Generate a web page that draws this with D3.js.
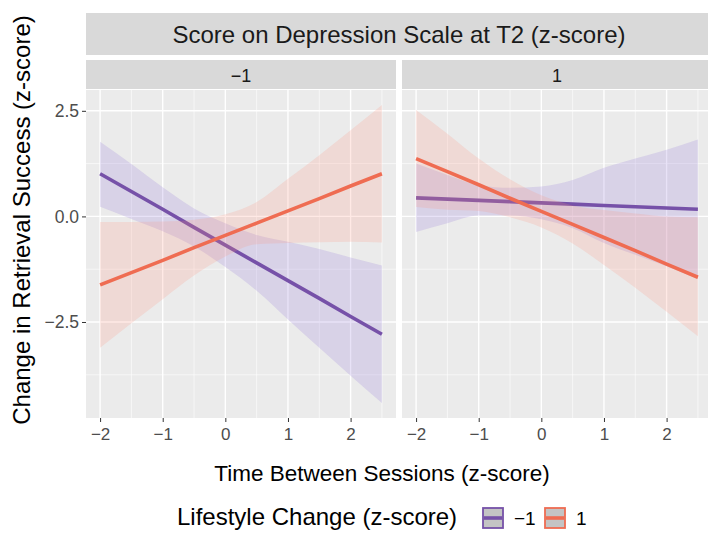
<!DOCTYPE html>
<html>
<head>
<meta charset="utf-8">
<script src="https://cdn.jsdelivr.net/npm/d3@7"></script>
<style>
  html, body { margin: 0; padding: 0; background: #fff; overflow: hidden; }
  svg { display: block; font-family: "Liberation Sans", Arial, sans-serif; }
</style>
</head>
<body>
<svg id="chart" width="708" height="534"></svg>
<script>
const timeX = [-2, -1.5, -1, -0.5, 0, 0.5, 1, 1.5, 2, 2.5];

// facet: depression -1
const depLowPurpleFit   = [1.01, 0.59, 0.17, -0.26, -0.68, -1.10, -1.52, -1.94, -2.37, -2.79];
const depLowPurpleUpper = [1.77, 1.24, 0.69, 0.19, -0.16, -0.44, -0.60, -0.77, -0.97, -1.16];
const depLowPurpleLower = [0.23, -0.06, -0.35, -0.71, -1.20, -1.76, -2.44, -3.11, -3.77, -4.42];
const depLowOrangeFit   = [-1.62, -1.33, -1.04, -0.74, -0.45, -0.16, 0.13, 0.42, 0.72, 1.01];
const depLowOrangeUpper = [-0.13, -0.13, -0.12, -0.08, 0.05, 0.34, 0.89, 1.45, 2.04, 2.64];
const depLowOrangeLower = [-3.11, -2.53, -1.96, -1.40, -0.95, -0.66, -0.63, -0.61, -0.60, -0.62];

// facet: depression 1
const depHighPurpleFit   = [0.44, 0.41, 0.38, 0.35, 0.32, 0.29, 0.26, 0.23, 0.20, 0.17];
const depHighPurpleUpper = [1.25, 0.98, 0.74, 0.68, 0.71, 0.86, 1.15, 1.37, 1.58, 1.82];
const depHighPurpleLower = [-0.37, -0.16, 0.02, 0.02, -0.07, -0.28, -0.63, -0.91, -1.18, -1.48];
const depHighOrangeFit   = [1.37, 1.06, 0.75, 0.43, 0.12, -0.19, -0.50, -0.81, -1.13, -1.44];
const depHighOrangeUpper = [2.52, 1.96, 1.37, 0.88, 0.50, 0.26, 0.15, 0.07, 0.00, -0.02];
const depHighOrangeLower = [0.22, 0.16, 0.13, -0.02, -0.26, -0.64, -1.15, -1.69, -2.26, -2.84];

const facetLabels = ["\u22121", "1"];
const lifestyleLevels = ["\u22121", "1"];
const xTicks = [-2, -1, 0, 1, 2];
const xMinor = [-1.5, -0.5, 0.5, 1.5, 2.5];
const yTicks = [-2.5, 0, 2.5];
const yMinor = [-3.75, -1.25, 1.25];

const lineCol = ["#7651a8", "#ef6c52"];
const ribbonCol = ["#8c6ed7", "#ff917f"];

const svg = d3.select("#chart");
const panelW = 310, gap = 6, left = 86;
const pTop = 90, pBottom = 418;

const y = d3.scaleLinear().domain([-4.773, 2.993]).range([pBottom, pTop]);
const fmtTick = v => (v < 0 ? "\u2212" : "") + Math.abs(v);
const fmtY = v => (v < 0 ? "\u2212" : "") + Math.abs(v).toFixed(1);

const facets = [
  { label: facetLabels[0], groups: [
    { fit: depLowPurpleFit, up: depLowPurpleUpper, lo: depLowPurpleLower },
    { fit: depLowOrangeFit, up: depLowOrangeUpper, lo: depLowOrangeLower }] },
  { label: facetLabels[1], groups: [
    { fit: depHighPurpleFit, up: depHighPurpleUpper, lo: depHighPurpleLower },
    { fit: depHighOrangeFit, up: depHighOrangeUpper, lo: depHighOrangeLower }] }
];

// Outer strip
svg.append("rect").attr("x", left).attr("y", 13).attr("width", panelW * 2 + gap).attr("height", 42).attr("fill", "#d9d9d9");
svg.append("text")
  .attr("x", left + panelW + gap / 2).attr("y", 42.5)
  .attr("text-anchor", "middle")
  .style("font-size", "24px").style("fill", "#1a1a1a")
  .text("Score on Depression Scale at T2 (z-score)");

facets.forEach((f, i) => {
  const x0 = left + i * (panelW + gap);
  const x = d3.scaleLinear().domain([-2.225, 2.725]).range([x0, x0 + panelW]);

  // facet strip
  svg.append("rect").attr("x", x0).attr("y", 60).attr("width", panelW).attr("height", 29).attr("fill", "#d9d9d9");
  svg.append("text").attr("x", x0 + panelW / 2).attr("y", 81.5)
    .attr("text-anchor", "middle").style("font-size", "18px").style("fill", "#1a1a1a")
    .text(f.label);

  const g = svg.append("g");
  g.append("rect").attr("x", x0).attr("y", pTop).attr("width", panelW).attr("height", pBottom - pTop).attr("fill", "#ebebeb");

  // grid
  g.selectAll(".ymin").data(yMinor).join("line")
    .attr("x1", x0).attr("x2", x0 + panelW).attr("y1", d => y(d)).attr("y2", d => y(d))
    .attr("stroke", "#fff").attr("stroke-width", 0.6);
  g.selectAll(".xmin").data(xMinor).join("line")
    .attr("x1", d => x(d)).attr("x2", d => x(d)).attr("y1", pTop).attr("y2", pBottom)
    .attr("stroke", "#fff").attr("stroke-width", 0.6);
  g.selectAll(".ymaj").data(yTicks).join("line")
    .attr("x1", x0).attr("x2", x0 + panelW).attr("y1", d => y(d)).attr("y2", d => y(d))
    .attr("stroke", "#fff").attr("stroke-width", 1.4);
  g.selectAll(".xmaj").data(xTicks).join("line")
    .attr("x1", d => x(d)).attr("x2", d => x(d)).attr("y1", pTop).attr("y2", pBottom)
    .attr("stroke", "#fff").attr("stroke-width", 1.4);

  // ribbons + lines
  f.groups.forEach((s, k) => {
    const pts = timeX.map((t, j) => ({ t, fit: s.fit[j], up: s.up[j], lo: s.lo[j] }));
    g.append("path").datum(pts)
      .attr("d", d3.area().curve(d3.curveMonotoneX).x(d => x(d.t)).y0(d => y(d.lo)).y1(d => y(d.up)))
      .attr("fill", ribbonCol[k]).attr("fill-opacity", 0.2);
    g.append("path").datum(pts)
      .attr("d", d3.line().x(d => x(d.t)).y(d => y(d.fit)))
      .attr("fill", "none").attr("stroke", lineCol[k]).attr("stroke-width", 3.6);
  });

  // x axis
  svg.append("g").attr("transform", `translate(0,${pBottom})`)
    .call(d3.axisBottom(x).tickValues(xTicks).tickSize(4).tickPadding(6).tickFormat(fmtTick))
    .call(ax => {
      ax.select(".domain").remove();
      ax.selectAll(".tick line").attr("stroke", "#333");
      ax.selectAll(".tick text").style("font-size", "17px").style("fill", "#4d4d4d").style("font-family", "Liberation Sans, Arial, sans-serif");
    });

  if (i === 0) {
    svg.append("g").attr("transform", `translate(${x0},0)`)
      .call(d3.axisLeft(y).tickValues(yTicks).tickSize(4).tickPadding(3).tickFormat(fmtY))
      .call(ax => {
        ax.select(".domain").remove();
        ax.selectAll(".tick line").attr("stroke", "#333");
        ax.selectAll(".tick text").style("font-size", "17.5px").style("fill", "#4d4d4d").style("font-family", "Liberation Sans, Arial, sans-serif");
      });
  }
});

// axis titles
svg.append("text")
  .attr("x", 382).attr("y", 481)
  .attr("text-anchor", "middle").style("font-size", "22.5px").style("fill", "#000")
  .text("Time Between Sessions (z-score)");
svg.append("text")
  .attr("transform", "translate(30,220) rotate(-90)")
  .attr("text-anchor", "middle").style("font-size", "24px").style("fill", "#000")
  .text("Change in Retrieval Success (z-score)");

// legend
const leg = svg.append("g");
leg.append("text").attr("x", 177).attr("y", 525)
  .style("font-size", "24px").style("fill", "#000")
  .text("Lifestyle Change (z-score)");
const keyX = [482, 544];
lifestyleLevels.forEach((lab, k) => {
  leg.append("rect").attr("x", keyX[k] + 1).attr("y", 508).attr("width", 20).attr("height", 20)
    .attr("fill", "#c4c4c4").attr("stroke", lineCol[k]).attr("stroke-width", 1.8);
  leg.append("line").attr("x1", keyX[k] + 2).attr("x2", keyX[k] + 20).attr("y1", 518).attr("y2", 518)
    .attr("stroke", lineCol[k]).attr("stroke-width", 3.6);
  leg.append("text").attr("x", keyX[k] + 32).attr("y", 525)
    .style("font-size", "19px").style("fill", "#000")
    .text(lab);
});
</script>
</body>
</html>
